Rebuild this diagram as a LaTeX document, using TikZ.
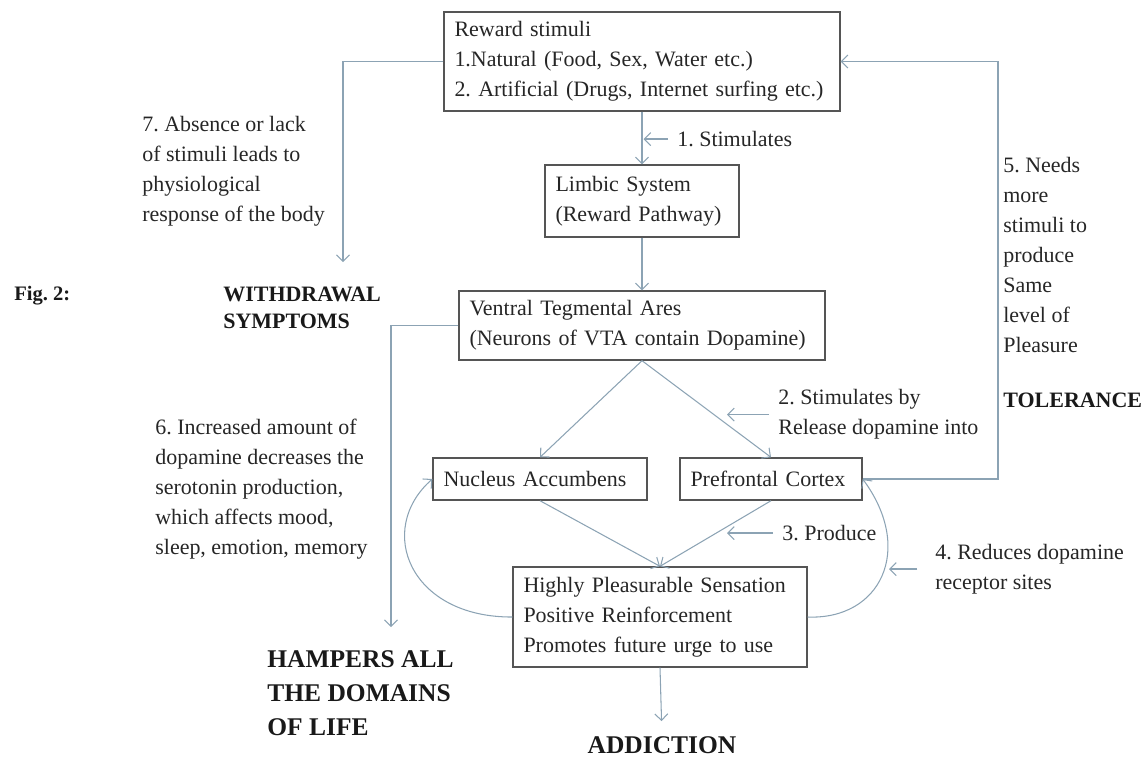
\documentclass[tikz,border=0pt]{standalone}
\usepackage{fontspec}
\setmainfont{Liberation Serif}
\usetikzlibrary{arrows.meta, calc, positioning}

\definecolor{linkblue}{RGB}{140,163,180}
\definecolor{boxgray}{RGB}{85,85,85}
\definecolor{txtgray}{RGB}{38,38,38}
\newcommand{\bodyfont}{\fontsize{12.5}{17}\selectfont}
\frenchspacing

\begin{document}
\begin{tikzpicture}[>={Straight Barb[length=1.3mm, width=2.6mm]},
		box/.style={draw=boxgray, line width=0.8pt, align=left, inner xsep=0.21cm, inner ysep=0pt, text=txtgray, font=\bodyfont},
		link/.style={->, linkblue, line width=0.6pt},
		pointer/.style={->, linkblue, line width=0.6pt, shorten <=5pt},
		note/.style={anchor=west, align=left, inner sep=0pt, text=txtgray, font=\bodyfont},
		heading/.style={anchor=west, align=left, inner sep=0pt, text=black!90, font=\bfseries\fontsize{12.5}{15.3}\selectfont}]
		
		\useasboundingbox (0,0) rectangle (22.88,-15.14);
		
		% --- 1. THE MAIN CHAIN (Stimuli to Addiction) ---
		\node[box, text width=7.5cm, minimum height=1.98cm] (reward) at (12.84,-1.23)
		{Reward stimuli\\1.Natural (Food, Sex, Water etc.)\\2. Artificial (Drugs, Internet surfing etc.)};
		\node[box, text width=3.46cm, minimum height=1.44cm] (limbic) at (12.84,-4.02)
		{Limbic System\\(Reward Pathway)};
		\node[box, text width=6.9cm, minimum height=1.38cm] (vta) at (12.84,-6.51)
		{Ventral Tegmental Ares\\(Neurons of VTA contain Dopamine)};
		\node[box, text width=3.86cm, minimum height=0.84cm] (nacc) at (10.8,-9.58) {Nucleus Accumbens};
		\node[box, text width=3.22cm, minimum height=0.84cm] (pfc) at (15.42,-9.58) {Prefrontal Cortex};
		\node[box, text width=5.46cm, minimum height=2.0cm] (plea) at (13.2,-12.34)
		{Highly Pleasurable Sensation\\Positive Reinforcement\\Promotes future urge to use};
		\node[inner sep=0pt, text=black!90, font=\bfseries\fontsize{14.5}{17}\selectfont] (addiction) at (13.24,-14.9) {ADDICTION};
		
		\draw[link] (reward) -- (limbic);
		\draw[link] (limbic) -- (vta);
		\draw[link] (vta.south) -- (nacc.north);
		\draw[link] (vta.south) -- (pfc.north);
		\draw[link] (nacc.south) -- (plea.north);
		\draw[link] (pfc.south) -- (plea.north);
		\draw[link, shorten >=0.3cm] (plea.south) -- (addiction.north);
		
		% Feedback loops round the pleasure box
		\draw[link] (plea.west) .. controls (8.2,-12.35) and (7.5,-10.6) .. (nacc.west);
		\draw[link] (plea.east) .. controls (17.6,-12.4) and (18.3,-11.0) .. (pfc.east);
		
		% Step labels with their small pointers
		\node[note] (note1) at (13.54,-2.78) {1. Stimulates};
		\node[note] (note2) at (15.56,-8.29) {2. Stimulates by\\Release dopamine into};
		\node[note] (note3) at (15.64,-10.66) {3. Produce};
		\node[note] (note4) at (18.7,-11.38) {4. Reduces dopamine\\receptor sites};
		\coordinate (t1) at (12.87,-2.78);
		\coordinate (t2) at (14.54,-8.29);
		\coordinate (t3) at (14.54,-10.66);
		\coordinate (t4) at (17.78,-11.38);
		\draw[pointer] (note1.west) -- (t1);
		\draw[pointer] (note2.west) -- (t2);
		\draw[pointer] (note3.west) -- (t3);
		\draw[pointer, shorten <=10pt] (note4.west) -- (t4);
		
		
		% --- 2. TOLERANCE (right side) ---
		\coordinate (rightX) at (19.96,0);
		\draw[link] (pfc.east) -- (pfc.east -| rightX) |- (reward.east);
		\node[note] (note5) at (20.06,-5.1) {5. Needs\\more\\stimuli to\\produce\\Same\\level of\\Pleasure};
		\node[heading] (tolerance) at (20.06,-8.0) {TOLERANCE};
		
		
		% --- 3. WITHDRAWAL AND SIDE EFFECTS (left side) ---
		\coordinate (wTip) at (6.86,-5.24);
		\draw[link] (reward.west) -| (wTip);
		\node[note] (note7) at (2.84,-3.42) {7. Absence or lack\\of stimuli leads to\\ physiological\\response of the body};
		\node[heading] (withdrawal) at (4.46,-6.15) {WITHDRAWAL\\SYMPTOMS};
		
		\coordinate (hTip) at (7.82,-12.54);
		\draw[link] (vta.west) -| (hTip);
		\node[note] (note6) at (3.1,-9.78) {6. Increased amount of\\dopamine decreases the\\serotonin production,\\which affects mood,\\sleep, emotion, memory};
		\node[heading, font=\bfseries\fontsize{14.5}{19.3}\selectfont] (hampers) at (5.34,-13.87) {HAMPERS ALL\\THE DOMAINS\\OF LIFE};
		
		% Figure tag
		\node[heading, font=\bfseries\fontsize{11.7}{14}\selectfont] (fig) at (0.28,-5.92) {Fig. 2:};
		
	\end{tikzpicture}
\end{document}
